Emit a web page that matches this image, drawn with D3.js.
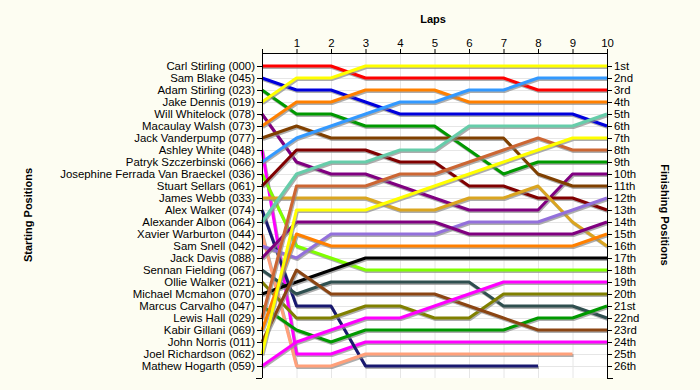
<!DOCTYPE html>
<html><head><meta charset="utf-8">
<script src="https://cdn.jsdelivr.net/npm/d3@7"></script>
<style>
body{margin:0;background:#FDFDF2;}
svg{display:block;font-family:"Liberation Sans",Arial,sans-serif;}
</style></head>
<body><svg id="c" width="700" height="390"></svg>
<script>
const lapLabels = [1,2,3,4,5,6,7,8,9,10];
const drivers = ["Carl Stirling (000)","Sam Blake (045)","Adam Stirling (023)","Jake Dennis (019)","Will Whitelock (078)","Macaulay Walsh (073)","Jack Vanderpump (077)","Ashley White (048)","Patryk Szczerbinski (066)","Josephine Ferrada Van Braeckel (036)","Stuart Sellars (061)","James Webb (033)","Alex Walker (074)","Alexander Albon (064)","Xavier Warburton (044)","Sam Snell (042)","Jack Davis (088)","Sennan Fielding (067)","Ollie Walker (021)","Michael Mcmahon (070)","Marcus Carvalho (047)","Lewis Hall (029)","Kabir Gillani (069)","John Norris (011)","Joel Richardson (062)","Mathew Hogarth (059)"];
// position at lap 0 (start) .. last completed lap
const positions = [
 [1,1,1,2,2,2,2,2,3,3,3],
 [2,3,3,4,5,5,5,5,5,5,6],
 [3,5,5,6,6,6,8,10,9,9,9],
 [4,2,2,1,1,1,1,1,1,1,1],
 [5,9,10,10,11,12,13,13,13,10,10],
 [6,4,4,3,3,3,4,4,4,4,4],
 [7,6,7,7,7,7,7,7,10,11,11],
 [8,25,25,24,24,24,24,24,24,24,24],
 [9,7,6,5,4,4,3,3,2,2,2],
 [10,16,17,18,18,18,18,18,18,18,18],
 [11,8,8,8,9,9,11,11,12,12,13],
 [12,12,12,12,13,13,12,12,11,14,16],
 [13,21,21,26,26,26,26,26,26],
 [14,10,9,9,8,8,6,6,6,6,5],
 [15,26,26,25,25,25,25,25,25,25],
 [16,17,15,15,15,15,14,14,14,13,12],
 [17,14,14,14,14,14,15,15,15,15,14],
 [18,20,19,19,19,19,19,21,21,21,22],
 [19,22,22,21,21,22,22,20,20,20,20],
 [20,19,18,17,17,17,17,17,17,17,17],
 [21,23,24,23,23,23,23,23,22,22,21],
 [22,11,11,11,10,10,9,8,7,8,8],
 [23,15,16,16,16,16,16,16,16,16,15],
 [24,18,20,20,20,20,21,22,23,23,23],
 [25,13,13,13,12,11,10,9,8,7,7],
 [26,24,23,22,22,21,20,19,19,19,19]
];
const finishLabels = ["1st","2nd","3rd","4th","5th","6th","7th","8th","9th","10th","11th","12th","13th","14th","15th","16th","17th","18th","19th","20th","21st","22nd","23rd","24th","25th","26th"];
const colors = ["#FF0000","#0000DD","#009900","#FFFF00","#800080","#FF8000","#804000","#FF00FF","#3399FF","#80FF00","#800000","#DAA520","#191970","#66CDAA","#FFA07A","#9370DB","#800080","#2F4F4F","#808000","#000000","#009900","#CC6633","#FF8000","#8B4513","#FFFF00","#FF00FF"];

const svg = d3.select("#c");
const x = d3.scaleLinear().domain([0,10]).range([262,607]);
const y = d3.scaleLinear().domain([1,26]).range([66,366]);
const yTop = 53, yBot = 378;

svg.append("rect").attr("x",x(0)).attr("y",yTop).attr("width",x(10)-x(0)).attr("height",yBot-yTop).attr("fill","#FFFFFF");
const grid = svg.append("g").attr("stroke","#E6E6E6").attr("stroke-width",1);
grid.selectAll("line.v").data(lapLabels).join("line").attr("class","v")
  .attr("x1",d=>x(d)+0.5).attr("x2",d=>x(d)+0.5).attr("y1",yTop).attr("y2",yBot);
grid.selectAll("line.h").data(d3.range(1,27)).join("line").attr("class","h")
  .attr("x1",x(0)).attr("x2",x(10)).attr("y1",d=>y(d)+0.5).attr("y2",d=>y(d)+0.5);

const line = d3.line().x((d,i)=>x(i)).y(d=>y(d));
const lg = svg.append("g").attr("fill","none").attr("stroke-linejoin","round");
positions.forEach((p,i)=>{
  lg.append("path").attr("d",line(p)).attr("stroke","#8a8a8a").attr("stroke-opacity",0.7)
    .attr("stroke-width",3).attr("transform","translate(1,1.5)");
  lg.append("path").attr("d",line(p)).attr("stroke",colors[i]).attr("stroke-width",3);
});

const fs = "11.4px";
const leftAx = svg.append("g").attr("transform",`translate(${x(0)},0)`)
  .call(d3.axisLeft(y).tickValues(d3.range(1,27)).tickFormat(d=>drivers[d-1]).tickSize(5).tickSizeOuter(0));
const rightAx = svg.append("g").attr("transform",`translate(${x(10)},0)`)
  .call(d3.axisRight(y).tickValues(d3.range(1,27)).tickFormat(d=>finishLabels[d-1]).tickSize(5).tickSizeOuter(0));
const topAx = svg.append("g").attr("transform",`translate(0,${yTop})`)
  .call(d3.axisTop(x).tickValues([0].concat(lapLabels)).tickFormat(d=>d===0?"":d).tickSize(4).tickSizeOuter(0));
[leftAx,rightAx,topAx].forEach(g=>{
  g.select(".domain").remove();
  g.selectAll("text").attr("font-size",fs).attr("fill","#000").attr("font-family","'Liberation Sans',Arial,sans-serif");
  g.selectAll(".tick line").attr("stroke","#000");
});
leftAx.selectAll("text").attr("x",-7);
rightAx.selectAll("text").attr("x",7);
topAx.selectAll("text").attr("y",-6);
const ax = svg.append("g").attr("stroke","#000").attr("stroke-width",1);
ax.append("line").attr("x1",x(0)+0.5).attr("x2",x(0)+0.5).attr("y1",yTop).attr("y2",yBot);
ax.append("line").attr("x1",x(10)+0.5).attr("x2",x(10)+0.5).attr("y1",yTop).attr("y2",yBot);
ax.append("line").attr("x1",x(0)).attr("x2",x(10)+1).attr("y1",yTop+0.5).attr("y2",yTop+0.5);
ax.append("line").attr("x1",x(0)-6).attr("x2",x(0)).attr("y1",yBot+0.5).attr("y2",yBot+0.5);
ax.append("line").attr("x1",x(10)).attr("x2",x(10)+6).attr("y1",yBot+0.5).attr("y2",yBot+0.5);

svg.append("text").attr("x",433).attr("y",23).attr("text-anchor","middle").attr("font-size","11px").attr("font-weight","bold").text("Laps");
svg.append("text").attr("transform","translate(32,215) rotate(-90)").attr("text-anchor","middle").attr("font-size","11px").attr("font-weight","bold").text("Starting Positions");
svg.append("text").attr("transform","translate(661,215) rotate(90)").attr("text-anchor","middle").attr("font-size","11px").attr("font-weight","bold").text("Finishing Positions");
</script></body></html>
